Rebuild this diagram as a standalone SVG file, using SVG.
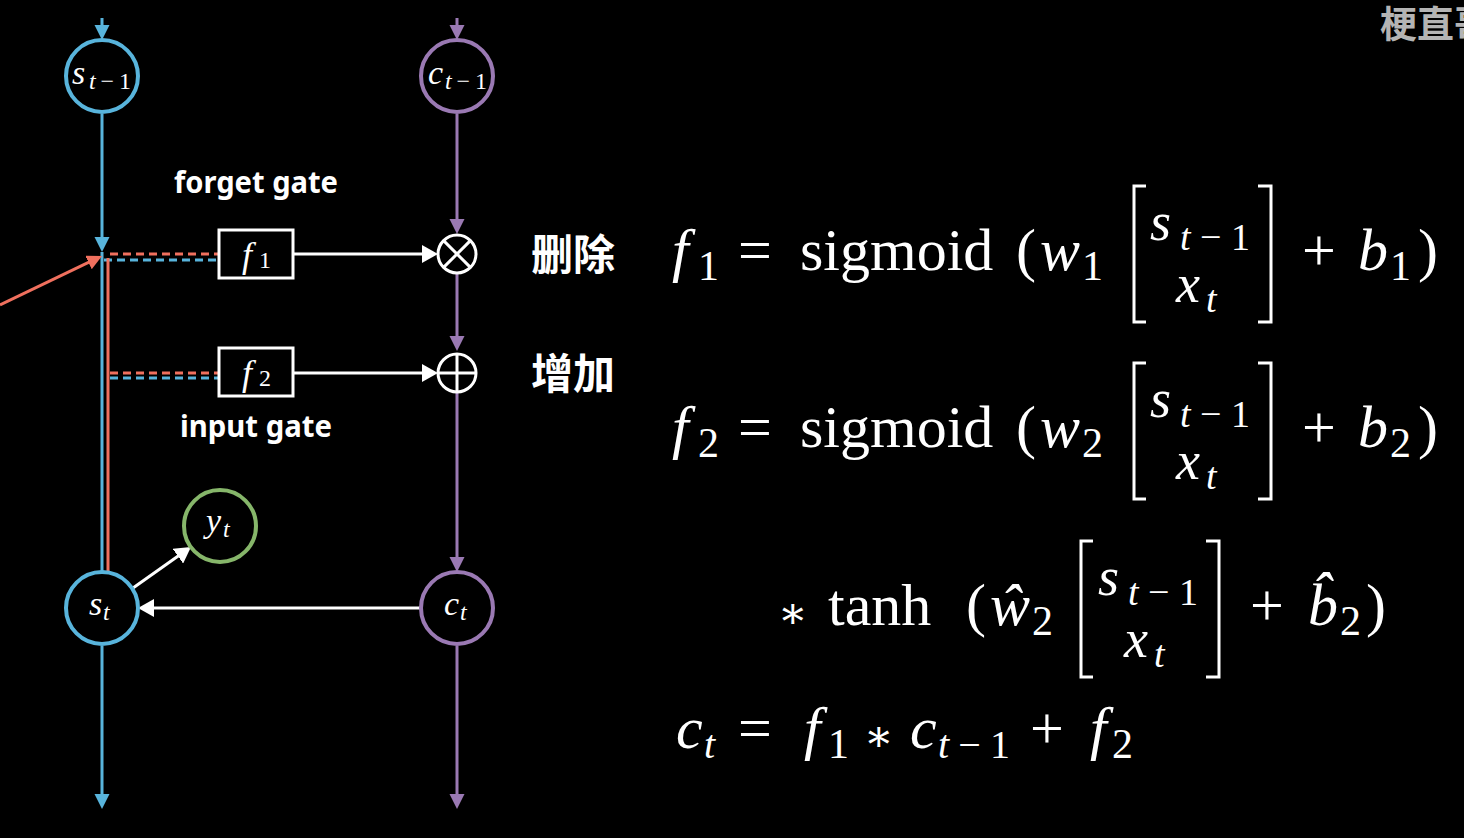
<svg xmlns="http://www.w3.org/2000/svg" width="1464" height="838" viewBox="0 0 1464 838">
<style>
.bl{stroke:#58b4dc;stroke-width:3;fill:none}
.pu{stroke:#9a79b3;stroke-width:3;fill:none}
.rd{stroke:#f0705e;stroke-width:3;fill:none}
.wh{stroke:#ffffff;stroke-width:3;fill:none}
.dash{stroke-dasharray:8,5}
.node{stroke-width:4;fill:#000}
.brk{stroke:#fff;stroke-width:3;fill:none}
</style>
<defs>
<marker id="aB" markerUnits="userSpaceOnUse" markerWidth="16" markerHeight="16" refX="11" refY="7.5" orient="auto"><path d="M0,0 L15,7.5 L0,15 z" fill="#58b4dc"/></marker>
<marker id="aP" markerUnits="userSpaceOnUse" markerWidth="16" markerHeight="16" refX="11" refY="7.5" orient="auto"><path d="M0,0 L15,7.5 L0,15 z" fill="#9a79b3"/></marker>
<marker id="aR" markerUnits="userSpaceOnUse" markerWidth="16" markerHeight="16" refX="11" refY="7.5" orient="auto"><path d="M0,0 L15,7.5 L0,15 z" fill="#f0705e"/></marker>
<marker id="aW" markerUnits="userSpaceOnUse" markerWidth="18" markerHeight="18" refX="12" refY="9" orient="auto"><path d="M0,0 L16,9 L0,18 z" fill="#ffffff"/></marker>
</defs>
<rect x="0" y="0" width="1464" height="838" fill="#000"/>

<g id="connectors">
<line class="bl" x1="102" y1="18" x2="102" y2="36" marker-end="url(#aB)"/>
<line class="bl" x1="102" y1="114" x2="102" y2="248" marker-end="url(#aB)"/>
<line class="bl" x1="102" y1="252" x2="102" y2="572"/>
<line class="bl" x1="102" y1="646" x2="102" y2="805" marker-end="url(#aB)"/>
<line class="bl dash" x1="104" y1="260" x2="218" y2="260"/>
<line class="bl dash" x1="110" y1="378" x2="218" y2="378"/>
<line class="pu" x1="457" y1="18" x2="457" y2="36" marker-end="url(#aP)"/>
<line class="pu" x1="457" y1="114" x2="457" y2="230" marker-end="url(#aP)"/>
<line class="pu" x1="457" y1="274" x2="457" y2="347" marker-end="url(#aP)"/>
<line class="pu" x1="457" y1="393" x2="457" y2="568" marker-end="url(#aP)"/>
<line class="pu" x1="457" y1="646" x2="457" y2="805" marker-end="url(#aP)"/>
<line class="rd" x1="0" y1="305" x2="98.4" y2="257.7" marker-end="url(#aR)"/>
<line class="rd" x1="108" y1="258" x2="108" y2="572"/>
<line class="rd dash" x1="110" y1="254" x2="218" y2="254"/>
<line class="rd dash" x1="110" y1="373" x2="218" y2="373"/>
<line class="wh" x1="293" y1="254" x2="434" y2="254" marker-end="url(#aW)"/>
<line class="wh" x1="293" y1="373" x2="434" y2="373" marker-end="url(#aW)"/>
<line class="wh" x1="421" y1="608" x2="142" y2="608" marker-end="url(#aW)"/>
<line class="wh" x1="133" y1="588" x2="187.7" y2="549.3" marker-end="url(#aW)"/>
</g>

<g id="node-s-prev">
<circle cx="102" cy="76" r="36" class="node" stroke="#58b4dc"/>
<text font-family="Liberation Serif" font-style="italic" fill="#fff" x="72" y="84" font-size="34">s</text>
<text font-family="Liberation Serif" font-style="italic" fill="#fff" x="89" y="89" font-size="24" textLength="42" lengthAdjust="spacing">t<tspan font-style="normal">−1</tspan></text>
</g>
<g id="node-c-prev">
<circle cx="457" cy="76" r="36" class="node" stroke="#9a79b3"/>
<text font-family="Liberation Serif" font-style="italic" fill="#fff" x="428" y="84" font-size="34">c</text>
<text font-family="Liberation Serif" font-style="italic" fill="#fff" x="445" y="89" font-size="24" textLength="42" lengthAdjust="spacing">t<tspan font-style="normal">−1</tspan></text>
</g>
<g id="node-f1">
<rect x="219" y="230" width="74" height="48" class="wh" fill="#000"/>
<text font-family="Liberation Serif" font-style="italic" fill="#fff" x="242" y="267" font-size="36">f</text>
<text font-family="Liberation Serif" fill="#fff" x="259" y="268" font-size="24">1</text>
</g>
<g id="node-f2">
<rect x="219" y="348" width="74" height="48" class="wh" fill="#000"/>
<text font-family="Liberation Serif" font-style="italic" fill="#fff" x="242" y="385" font-size="36">f</text>
<text font-family="Liberation Serif" fill="#fff" x="259" y="386" font-size="24">2</text>
</g>
<g id="node-mul">
<circle cx="457" cy="254" r="19" class="wh" fill="#000"/>
<line class="wh" x1="443.6" y1="240.6" x2="470.4" y2="267.4"/>
<line class="wh" x1="470.4" y1="240.6" x2="443.6" y2="267.4"/>
</g>
<g id="node-add">
<circle cx="457" cy="373" r="19" class="wh" fill="#000"/>
<line class="wh" x1="438" y1="373" x2="476" y2="373"/>
<line class="wh" x1="457" y1="354" x2="457" y2="392"/>
</g>
<g id="node-y">
<circle cx="220" cy="526" r="36" class="node" stroke="#86b66a"/>
<text font-family="Liberation Serif" font-style="italic" fill="#fff" x="206" y="532" font-size="34">y</text>
<text font-family="Liberation Serif" font-style="italic" fill="#fff" x="223" y="537" font-size="24">t</text>
</g>
<g id="node-s">
<circle cx="102" cy="608" r="36" class="node" stroke="#58b4dc"/>
<text font-family="Liberation Serif" font-style="italic" fill="#fff" x="89" y="615" font-size="34">s</text>
<text font-family="Liberation Serif" font-style="italic" fill="#fff" x="103" y="620" font-size="24">t</text>
</g>
<g id="node-c">
<circle cx="457" cy="608" r="36" class="node" stroke="#9a79b3"/>
<text font-family="Liberation Serif" font-style="italic" fill="#fff" x="444" y="615" font-size="34">c</text>
<text font-family="Liberation Serif" font-style="italic" fill="#fff" x="460" y="620" font-size="24">t</text>
</g>

<g id="labels">
<text font-family="Noto Sans" font-weight="bold" font-size="30" fill="#fff" x="174" y="193" textLength="164" lengthAdjust="spacingAndGlyphs">forget gate</text>
<text font-family="Noto Sans" font-weight="bold" font-size="30" fill="#fff" x="180" y="437" textLength="152" lengthAdjust="spacingAndGlyphs">input gate</text>
<text font-family="Noto Sans CJK SC" font-weight="bold" font-size="42" fill="#fff" x="531" y="270">删除</text>
<text font-family="Noto Sans CJK SC" font-weight="bold" font-size="42" fill="#fff" x="531" y="389">增加</text>
<text x="1380" y="38" font-family="Noto Sans CJK SC" font-weight="bold" font-size="37" fill="#b4b4b4">梗直哥</text>
</g>

<g id="eq1" fill="#fff">
<text font-family="Liberation Serif" font-style="italic" font-size="60" x="672" y="270">f</text><text font-family="Liberation Serif" font-size="42" x="698" y="280">1</text>
<text font-family="Liberation Serif" font-size="60" x="738" y="270">=</text>
<text font-family="Liberation Serif" font-size="60" x="800" y="270">sigmoid</text>
<text font-family="Liberation Serif" font-size="60" x="1016" y="270">(</text>
<text font-family="Liberation Serif" font-style="italic" font-size="60" x="1040" y="270">w</text><text font-family="Liberation Serif" font-size="42" x="1082" y="280">1</text>
<path class="brk" d="M1146,186 H1134 V322 H1146"/>
<text font-family="Liberation Serif" font-style="italic" font-size="54" x="1150" y="240">s</text>
<text font-family="Liberation Serif" font-style="italic" font-size="38" x="1180" y="250" textLength="70" lengthAdjust="spacing">t<tspan font-style="normal">−1</tspan></text>
<text font-family="Liberation Serif" font-style="italic" font-size="54" x="1176" y="302">x</text><text font-family="Liberation Serif" font-style="italic" font-size="38" x="1206" y="312">t</text>
<path class="brk" d="M1258,186 H1271 V322 H1258"/>
<text font-family="Liberation Serif" font-size="60" x="1302" y="270">+</text>
<text font-family="Liberation Serif" font-style="italic" font-size="60" x="1358" y="270">b</text><text font-family="Liberation Serif" font-size="42" x="1390" y="280">1</text>
<text font-family="Liberation Serif" font-size="60" x="1418" y="270">)</text>
</g>

<g id="eq2" fill="#fff">
<text font-family="Liberation Serif" font-style="italic" font-size="60" x="672" y="447">f</text><text font-family="Liberation Serif" font-size="42" x="698" y="457">2</text>
<text font-family="Liberation Serif" font-size="60" x="738" y="447">=</text>
<text font-family="Liberation Serif" font-size="60" x="800" y="447">sigmoid</text>
<text font-family="Liberation Serif" font-size="60" x="1016" y="447">(</text>
<text font-family="Liberation Serif" font-style="italic" font-size="60" x="1040" y="447">w</text><text font-family="Liberation Serif" font-size="42" x="1082" y="457">2</text>
<path class="brk" d="M1146,363 H1134 V499 H1146"/>
<text font-family="Liberation Serif" font-style="italic" font-size="54" x="1150" y="417">s</text>
<text font-family="Liberation Serif" font-style="italic" font-size="38" x="1180" y="427" textLength="70" lengthAdjust="spacing">t<tspan font-style="normal">−1</tspan></text>
<text font-family="Liberation Serif" font-style="italic" font-size="54" x="1176" y="479">x</text><text font-family="Liberation Serif" font-style="italic" font-size="38" x="1206" y="489">t</text>
<path class="brk" d="M1258,363 H1271 V499 H1258"/>
<text font-family="Liberation Serif" font-size="60" x="1302" y="447">+</text>
<text font-family="Liberation Serif" font-style="italic" font-size="60" x="1358" y="447">b</text><text font-family="Liberation Serif" font-size="42" x="1390" y="457">2</text>
<text font-family="Liberation Serif" font-size="60" x="1418" y="447">)</text>
</g>

<g id="eq3" fill="#fff">
<text font-family="DejaVu Serif" font-size="44" x="778" y="628">∗</text>
<text font-family="Liberation Serif" font-size="60" x="828" y="625">tanh</text>
<text font-family="Liberation Serif" font-size="60" x="966" y="625">(</text>
<text font-family="Liberation Serif" font-style="italic" font-size="60" x="990" y="625">ŵ</text>
<text font-family="Liberation Serif" font-size="42" x="1032" y="635">2</text>
<path class="brk" d="M1093,541 H1081 V677 H1093"/>
<text font-family="Liberation Serif" font-style="italic" font-size="54" x="1098" y="595">s</text>
<text font-family="Liberation Serif" font-style="italic" font-size="38" x="1128" y="605" textLength="70" lengthAdjust="spacing">t<tspan font-style="normal">−1</tspan></text>
<text font-family="Liberation Serif" font-style="italic" font-size="54" x="1124" y="657">x</text><text font-family="Liberation Serif" font-style="italic" font-size="38" x="1154" y="667">t</text>
<path class="brk" d="M1206,541 H1219 V677 H1206"/>
<text font-family="Liberation Serif" font-size="60" x="1250" y="625">+</text>
<text font-family="Liberation Serif" font-style="italic" font-size="60" x="1308" y="625">b&#x302;</text>
<text font-family="Liberation Serif" font-size="42" x="1340" y="635">2</text>
<text font-family="Liberation Serif" font-size="60" x="1366" y="625">)</text>
</g>

<g id="eq4" fill="#fff">
<text font-family="Liberation Serif" font-style="italic" font-size="60" x="676" y="748">c</text><text font-family="Liberation Serif" font-style="italic" font-size="40" x="704" y="758">t</text>
<text font-family="Liberation Serif" font-size="60" x="738" y="748">=</text>
<text font-family="Liberation Serif" font-style="italic" font-size="60" x="804" y="748">f</text><text font-family="Liberation Serif" font-size="42" x="828" y="758">1</text>
<text font-family="DejaVu Serif" font-size="44" x="864" y="751">∗</text>
<text font-family="Liberation Serif" font-style="italic" font-size="60" x="910" y="748">c</text>
<text font-family="Liberation Serif" font-style="italic" font-size="40" x="938" y="758" textLength="72" lengthAdjust="spacing">t<tspan font-style="normal">−1</tspan></text>
<text font-family="Liberation Serif" font-size="60" x="1030" y="748">+</text>
<text font-family="Liberation Serif" font-style="italic" font-size="60" x="1090" y="748">f</text><text font-family="Liberation Serif" font-size="42" x="1112" y="758">2</text>
</g>
</svg>
